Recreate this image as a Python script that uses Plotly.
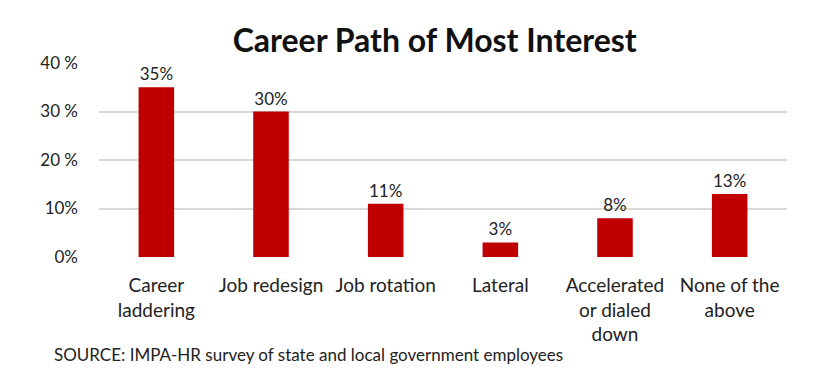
import plotly.graph_objects as go

categories = ["Career<br>laddering", "Job redesign", "Job rotation", "Lateral",
              "Accelerated<br>or dialed<br>down", "None of the<br>above"]
values = [35, 30, 11, 3, 8, 13]
value_labels = ["35%", "30%", "11%", "3%", "8%", "13%"]
y_tickvals = [0, 10, 20, 30, 40]
y_ticktext = ["0%", "10%", "20 %", "30 %", "40 %"]

FONT = "Lato, Carlito, 'Open Sans', sans-serif"

fig = go.Figure()
fig.add_trace(go.Bar(
    x=list(range(len(categories))),
    y=values,
    marker=dict(color="#C00000", line=dict(width=0)),
    text=value_labels,
    textposition="outside",
    textfont=dict(size=17, color="#222222", family=FONT),
    cliponaxis=False,
    width=0.31,
))

fig.update_layout(
    width=840, height=383,
    margin=dict(l=91, r=61, t=55, b=134, autoexpand=False),
    paper_bgcolor="white", plot_bgcolor="white",
    showlegend=False,
    title=dict(text="<b>Career Path of Most Interest</b>", x=0.508, xanchor="center",
               y=0.915, yanchor="middle",
               font=dict(size=32, color="#111111", family=FONT)),
    font=dict(family=FONT, color="#222222"),
)
fig.update_xaxes(
    tickmode="array", tickvals=list(range(len(categories))), ticktext=categories,
    range=[-0.5, len(categories) - 0.5], automargin=False,
    showgrid=False, showline=False, ticks="", zeroline=False,
    tickfont=dict(size=19, color="#222222", family=FONT),
    ticklabelstandoff=15,
)
fig.update_yaxes(
    range=[0, 40], tickmode="array", tickvals=y_tickvals, ticktext=y_ticktext,
    showgrid=True, gridcolor="#d9d9d9", gridwidth=1.5, zeroline=False,
    showline=False, ticks="", automargin=False,
    tickfont=dict(size=17, color="#222222", family=FONT),
    ticklabelstandoff=20,
)
fig.add_annotation(
    text="SOURCE: IMPA-HR survey of state and local government employees",
    xref="paper", yref="paper", x=-0.068, y=-0.5, xanchor="left", yanchor="middle",
    showarrow=False, font=dict(size=17, color="#222222", family=FONT),
)

fig.write_html("out.html")
